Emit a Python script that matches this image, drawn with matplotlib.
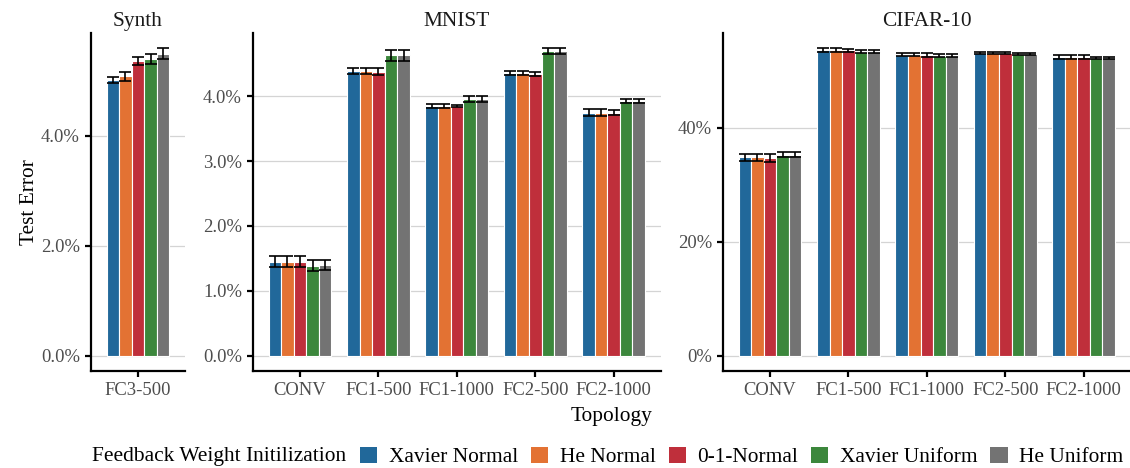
import matplotlib
matplotlib.use("Agg")
import matplotlib.pyplot as plt
from matplotlib.patches import Patch
from matplotlib.ticker import FuncFormatter

plt.rcParams["font.family"] = ["Liberation Serif", "DejaVu Serif"]

# Feedback weight initialisations (legend order)
inits = ["Xavier Normal", "He Normal", "0-1-Normal", "Xavier Uniform", "He Uniform"]
colors = ["#21689A", "#E37233", "#BF2F3B", "#3C873C", "#737373"]

# Test error in percent, one row per topology, one column per init
synth_topologies = ["FC3-500"]
synth_mean = [[5.01, 5.08, 5.36, 5.40, 5.49]]
synth_sd = [[0.05, 0.08, 0.07, 0.09, 0.10]]

mnist_topologies = ["CONV", "FC1-500", "FC1-1000", "FC2-500", "FC2-1000"]
mnist_mean = [
    [1.45, 1.45, 1.45, 1.39, 1.40],
    [4.39, 4.39, 4.38, 4.63, 4.63],
    [3.85, 3.85, 3.85, 3.96, 3.96],
    [4.36, 4.36, 4.34, 4.70, 4.70],
    [3.75, 3.75, 3.75, 3.93, 3.93],
]
mnist_sd = [
    [0.08, 0.08, 0.08, 0.09, 0.08],
    [0.05, 0.05, 0.05, 0.085, 0.085],
    [0.025, 0.025, 0.01, 0.045, 0.045],
    [0.035, 0.035, 0.03, 0.04, 0.04],
    [0.055, 0.055, 0.045, 0.03, 0.03],
]

cifar_topologies = ["CONV", "FC1-500", "FC1-1000", "FC2-500", "FC2-1000"]
cifar_mean = [
    [34.8, 34.8, 34.7, 35.3, 35.3],
    [53.66, 53.66, 53.6, 53.37, 53.37],
    [52.84, 52.84, 52.8, 52.67, 52.67],
    [53.17, 53.17, 53.15, 52.94, 52.94],
    [52.38, 52.38, 52.35, 52.3, 52.3],
]
cifar_sd = [
    [0.67, 0.67, 0.67, 0.44, 0.44],
    [0.29, 0.29, 0.29, 0.23, 0.23],
    [0.29, 0.29, 0.29, 0.29, 0.29],
    [0.2, 0.2, 0.2, 0.2, 0.2],
    [0.35, 0.35, 0.35, 0.2, 0.2],
]

panels = [
    ("Synth", synth_topologies, synth_mean, synth_sd, [0, 2, 4], "{:.1f}%", 91),
    ("MNIST", mnist_topologies, mnist_mean, mnist_sd, [0, 1, 2, 3, 4], "{:.1f}%", 253),
    ("CIFAR-10", cifar_topologies, cifar_mean, cifar_sd, [0, 20, 40], "{:.0f}%", 723),
]

W, H = 1130, 468
fig = plt.figure(figsize=(W / 100, H / 100), dpi=100)

px_per_unit = 78.4
top_px, bottom_px = 33, 371
tick_color = "#4D4D4D"
bar_w = 0.16

for title, topo, mean, sd, yticks, fmt, left_px in panels:
    n = len(topo)
    width_px = (n + 0.2) * px_per_unit
    ax = fig.add_axes([left_px / W, 1 - bottom_px / H, width_px / W, (bottom_px - top_px) / H])

    for j, init in enumerate(inits):
        xs = [i + (j - 2) * bar_w for i in range(n)]
        ys = [row[j] for row in mean]
        es = [row[j] for row in sd]
        ax.bar(xs, ys, width=bar_w, color=colors[j], edgecolor="white", linewidth=0.8, zorder=2)
        ax.errorbar(xs, ys, yerr=es, fmt="none", ecolor="black", elinewidth=1.2,
                    capsize=4.2, capthick=1.2, zorder=3)

    top = max(m + s for mr, sr in zip(mean, sd) for m, s in zip(mr, sr))
    ax.set_ylim(-0.05 * top, top * 1.05)
    ax.set_xlim(-0.6, n - 0.4)
    ax.set_xticks(range(n))
    ax.set_xticklabels(topo)
    ax.set_yticks(yticks)
    ax.yaxis.set_major_formatter(FuncFormatter(lambda v, p, f=fmt: f.format(v)))

    ax.yaxis.grid(True, color="#D4D4D4", linewidth=0.9)
    ax.set_axisbelow(True)
    for s in ["top", "right"]:
        ax.spines[s].set_visible(False)
    for s in ["left", "bottom"]:
        ax.spines[s].set_linewidth(1.6)
        ax.spines[s].set_color("black")
    ax.tick_params(axis="both", length=4.5, width=1.6, color="black",
                   labelsize=13.4, labelcolor=tick_color, pad=3.5)
    ax.set_title(title, fontsize=15.4, color="#1A1A1A", pad=5)

fig.text(30 / W, 1 - 202 / H, "Test Error", rotation=90, ha="center", va="center",
         fontsize=15.4, color="black")
fig.text(612 / W, 1 - 417 / H, "Topology", ha="center", va="center",
         fontsize=15.4, color="black")

# legend along the bottom with its title on the left
fig.text(92 / W, 1 - 457 / H, "Feedback Weight Initilization", ha="left", va="center",
         fontsize=15.4, color="black")
handles = [Patch(facecolor=c, edgecolor="none") for c in colors]
fig.legend(handles, inits, loc="center left", bbox_to_anchor=(360 / W, 1 - 457 / H),
           ncol=5, frameon=False, fontsize=15.4, handlelength=0.8, handleheight=0.8,
           handletextpad=0.55, columnspacing=0.6, borderaxespad=0, borderpad=0)

fig.savefig("out.png", dpi=100)
